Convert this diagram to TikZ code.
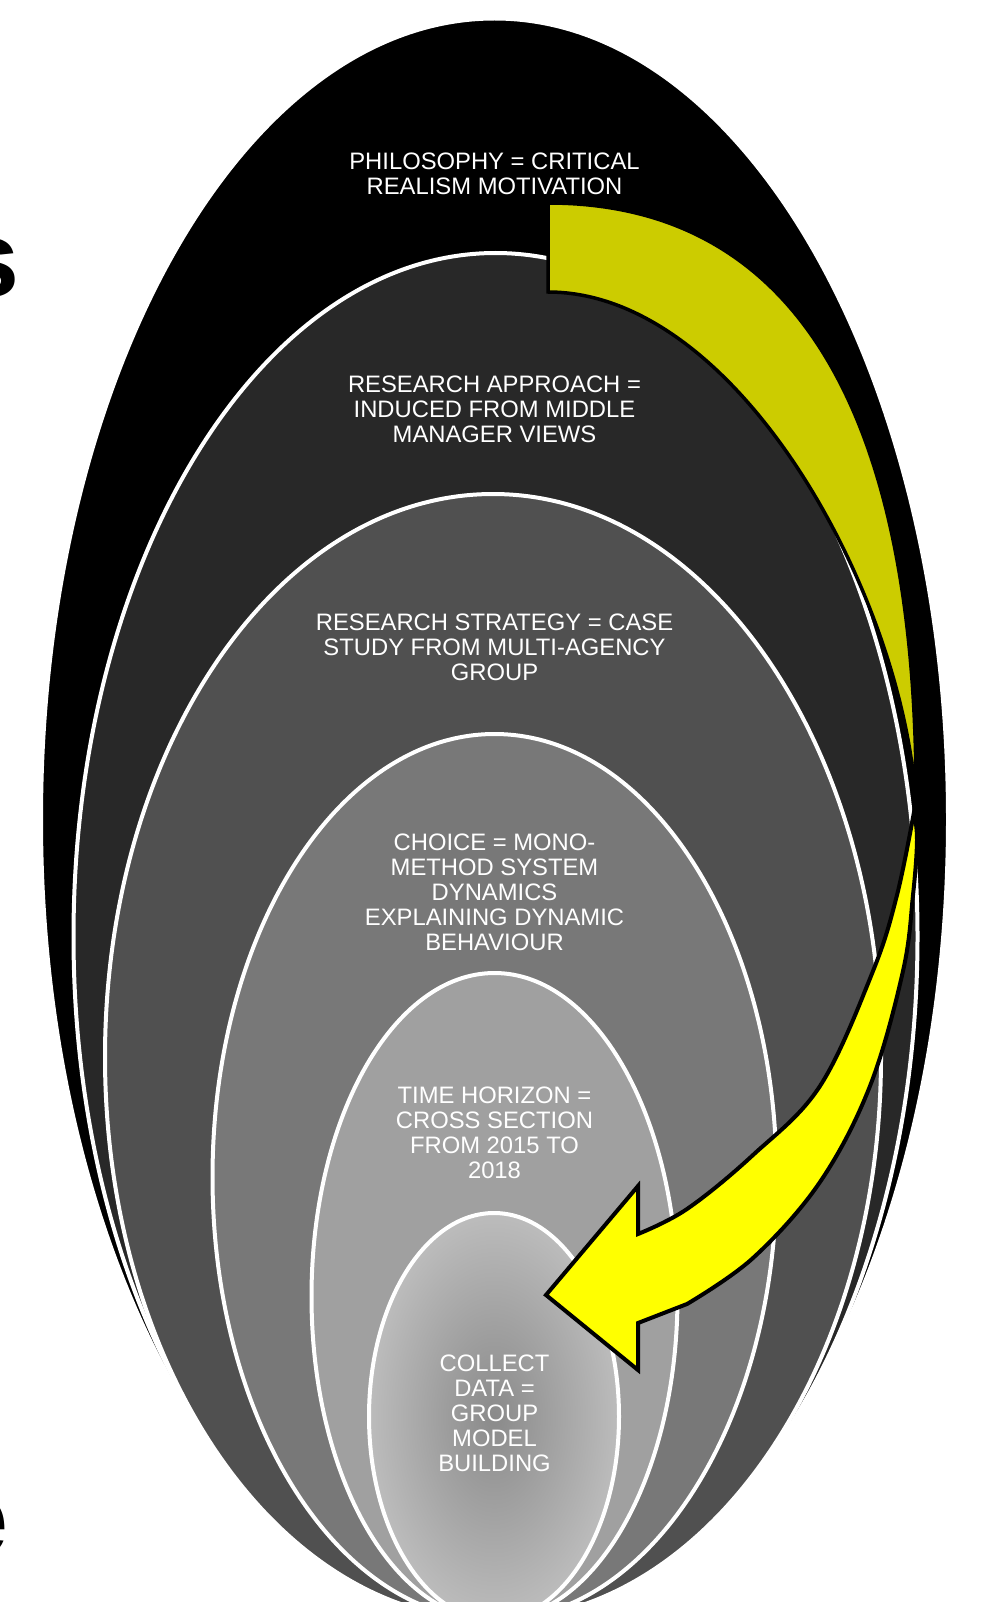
\documentclass[tikz,border=0pt]{standalone}
\usepackage{fontspec}
\setmainfont{Liberation Sans}
\definecolor{g1}{HTML}{000000}
\definecolor{g2}{HTML}{282828}
\definecolor{g3}{HTML}{505050}
\definecolor{g4}{HTML}{787878}
\definecolor{g5}{HTML}{A0A0A0}
\definecolor{g6in}{HTML}{8A8A8A}
\definecolor{g6out}{HTML}{BCBCBC}
\definecolor{olive}{HTML}{CCCC00}
\definecolor{yel}{HTML}{FFFF00}
\tikzset{
  ring/.style={draw=white, line width=4pt},
  lbl/.style={text=white, font=\fontsize{23.8}{25}\selectfont, align=center, inner sep=0pt},
  frag/.style={text=black, font=\fontsize{108}{108}\selectfont\bfseries, inner sep=0pt, anchor=base west},
  arrowpart/.style={draw=black, line width=4pt, line join=miter}
}
\begin{document}
\begin{tikzpicture}[x=1pt,y=-1pt]
\useasboundingbox (0,0) rectangle (988,1602);
\fill[white] (0,0) rectangle (988,1602);
% slide text fragments
\node[frag] (fs) at (-41,297) {s};
\node[frag] (fe) at (-52,1555) {e};
% nested ellipses
\filldraw[ring, fill=g1] (494.5,819.5) ellipse [x radius=453.5pt, y radius=801pt];
\filldraw[ring, fill=g2] (495.5,936.5) ellipse [x radius=422pt, y radius=683.5pt];
\filldraw[ring, fill=g3] (493,1057) ellipse [x radius=388pt, y radius=563pt];
\filldraw[ring, fill=g4] (494.5,1177) ellipse [x radius=282pt, y radius=443pt];
\filldraw[ring, fill=g5] (494.5,1296.5) ellipse [x radius=183pt, y radius=323.5pt];
\shade[inner color=g6in, outer color=g6out] (494,1416.5) ellipse [x radius=125pt, y radius=203.5pt];
\draw[ring] (494,1416.5) ellipse [x radius=125pt, y radius=203.5pt];
% labels
\node[lbl] (n1) at (494.5,173.7) {PHILOSOPHY = CRITICAL\\REALISM MOTIVATION};
\node[lbl] (n2) at (494.5,409.7) {RESEARCH APPROACH =\\INDUCED FROM MIDDLE\\MANAGER VIEWS};
\node[lbl] (n3) at (494.5,647.8) {RESEARCH STRATEGY = CASE\\STUDY FROM MULTI-AGENCY\\GROUP};
\node[lbl] (n4) at (494.5,892) {CHOICE = MONO-\\METHOD SYSTEM\\DYNAMICS\\EXPLAINING DYNAMIC\\BEHAVIOUR};
\node[lbl] (n5) at (494.5,1132.6) {TIME HORIZON =\\CROSS SECTION\\FROM 2015 TO\\2018};
\node[lbl] (n6) at (494.5,1413) {COLLECT\\DATA =\\GROUP\\MODEL\\BUILDING};
% curved arrow: back part
\filldraw[arrowpart, line width=3.5pt, fill=olive]
  (548,203) .. controls (800,203) and (918,420) .. (916,805)
  .. controls (905,600) and (740,292) .. (548,292) -- cycle;
% curved arrow: front part
\filldraw[arrowpart, fill=yel]
  plot[smooth, tension=0.6] coordinates {(914,812) (897,895) (873,971) (820,1086) (753,1155) (687,1209) (638,1234)}
  -- (638,1186) -- (546,1295) -- (638,1370) -- (638,1323)
  -- plot[smooth, tension=0.6] coordinates {(687,1304) (753,1258) (820,1182) (870,1086) (903,971) (913,895) (917,840) (914,812)}
  -- cycle;
\end{tikzpicture}
\end{document}
